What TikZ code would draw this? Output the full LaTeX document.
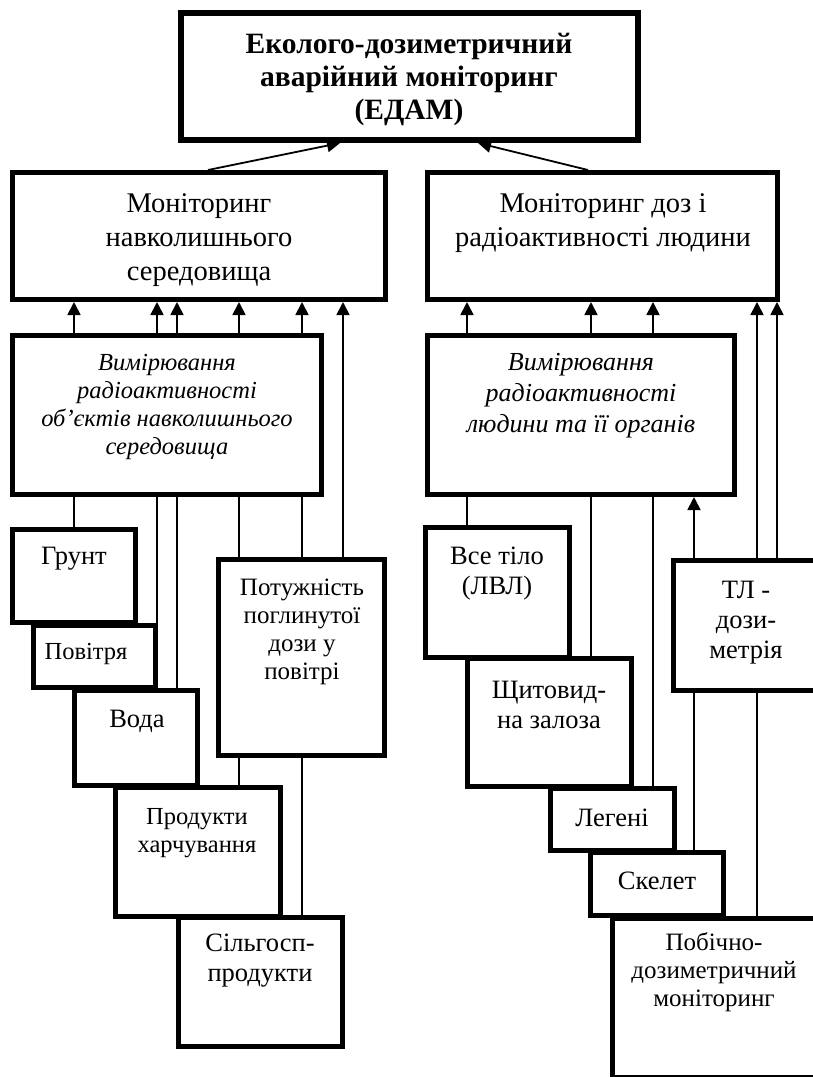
\documentclass[tikz,border=0pt]{standalone}
\usepackage{fontspec}
\setmainfont{Liberation Serif}
\usetikzlibrary{arrows.meta}

% box given by its outer edges: name, left, top, right, bottom
\newcommand\mkbox[5]{%
  \node[box, minimum width={#4-#2-5}, minimum height={#5-#3-5}] (#1) at (#2,#3) {};}

\begin{document}
\begin{tikzpicture}[x=1pt,y=-1pt,
  box/.style={draw, fill=white, line width=5pt, inner sep=0pt, anchor=north west},
  link/.style={line width=1.8pt},
  arr/.style={link, -{Triangle[width=13pt,length=13pt]}},
  lbl/.style={align=center, inner sep=0pt},
  t24/.style={lbl, font=\fontsize{24.5}{28}\selectfont},
  t26/.style={lbl, font=\fontsize{26.5}{30}\selectfont},
  t28/.style={lbl, font=\fontsize{28.5}{34}\selectfont},
]
\useasboundingbox (0,0) rectangle (812,1077);

% top level
\node[box, line width=6pt, minimum width=457, minimum height=127] (edam) at (178,10) {};
\mkbox{monL}{10}{170}{388}{302}
\mkbox{monR}{425}{170}{780}{302}

% measurement blocks
\mkbox{measL}{10}{333}{324}{497}
\mkbox{measR}{425}{333}{737}{497}

% environment objects
\mkbox{grunt}{10}{527}{138}{625}
\mkbox{povitrya}{31}{623}{158}{690}
\mkbox{voda}{72}{688}{200}{788}
\mkbox{produkty}{113}{785}{283}{919}
\mkbox{silgosp}{176}{915}{345}{1049}
\mkbox{potuzh}{216}{557}{387}{758}

% human body and dosimetry
\mkbox{vse}{423}{525}{572}{660}
\mkbox{shchyt}{465}{656}{634}{789}
\mkbox{legeni}{548}{786}{677}{853}
\mkbox{skelet}{588}{850}{726}{918}
\mkbox{tl}{671}{558}{822}{693}
\mkbox{pobichno}{610}{916}{822}{1080}

% labels
\node[lbl, font=\fontsize{29.5}{33}\selectfont\bfseries] (edam-t) at (409,79)
  {Еколого-дозиметричний\\аварійний моніторинг\\(ЕДАМ)};
\node[t28] (monL-t) at (199,240) {Моніторинг\\навколишнього\\середовища};
\node[t28] (monR-t) at (603,223) {Моніторинг доз і\\радіоактивності людини};
\node[lbl, font=\fontsize{24.5}{28}\selectfont\itshape] (measL-t) at (167,407)
  {Вимірювання\\радіоактивності\\об’єктів навколишнього\\середовища};
\node[lbl, font=\fontsize{26}{31}\selectfont\itshape] (measR-t) at (581,396)
  {Вимірювання\\радіоактивності\\людини та її органів};
\node[t26] (grunt-t) at (74,559) {Грунт};
\node[t24] (povitrya-t) at (86,654) {Повітря};
\node[t26] (voda-t) at (137,721) {Вода};
\node[t24] (produkty-t) at (197,833) {Продукти\\харчування};
\node[t26] (silgosp-t) at (260,961) {Сільгосп-\\продукти};
\node[lbl, font=\fontsize{25}{28}\selectfont] (potuzh-t) at (302,632) {Потужність\\поглинутої\\дози у\\повітрі};
\node[t26] (vse-t) at (497,574) {Все тіло\\(ЛВЛ)};
\node[t26] (shchyt-t) at (549,705) {Щитовид-\\на залоза};
\node[t26] (legeni-t) at (612,818) {Легені};
\node[t26] (skelet-t) at (657,881) {Скелет};
\node[t26] (tl-t) at (746,623) {ТЛ -\\дози-\\метрія};
\node[lbl, font=\fontsize{25}{28}\selectfont] (pobichno-t) at (714,972)
  {Побічно-\\дозиметричний\\моніторинг};

% x positions of the vertical connectors
\foreach \n/\x in {a/74, b/157, c/177, d/239, e/302, f/343,
                   g/467, h/591, i/653, j/694, k/757, l/777,
                   s1/208, e1/340, s2/588, e2/478}
  \coordinate (x\n) at (\x,0);

% into ЕДАМ
\draw[arr] (monL.north -| xs1) -- (edam.south -| xe1);
\draw[arr] (monR.north -| xs2) -- (edam.south -| xe2);

% left branch
\foreach \c in {xa, xb, xc, xd, xe}
  \draw[arr] (measL.north -| \c) -- (monL.south -| \c);
\draw[arr] (potuzh.north -| xf) -- (monL.south -| xf);
\draw[link] (grunt.north -| xa) -- (measL.south -| xa);
\draw[link] (povitrya.north -| xb) -- (measL.south -| xb);
\draw[link] (voda.north -| xc) -- (measL.south -| xc);
\draw[link] (potuzh.north -| xd) -- (measL.south -| xd);
\draw[link] (potuzh.north -| xe) -- (measL.south -| xe);
\draw[link] (produkty.north -| xd) -- (potuzh.south -| xd);
\draw[link] (silgosp.north -| xe) -- (potuzh.south -| xe);

% right branch
\foreach \c in {xg, xh, xi}
  \draw[arr] (measR.north -| \c) -- (monR.south -| \c);
\draw[arr] (tl.north -| xk) -- (monR.south -| xk);
\draw[arr] (tl.north -| xl) -- (monR.south -| xl);
\draw[arr] (tl.north -| xj) -- (measR.south -| xj);
\draw[link] (vse.north -| xg) -- (measR.south -| xg);
\draw[link] (shchyt.north -| xh) -- (measR.south -| xh);
\draw[link] (legeni.north -| xi) -- (measR.south -| xi);
\draw[link] (skelet.north -| xj) -- (tl.south -| xj);
\draw[link] (pobichno.north -| xk) -- (tl.south -| xk);
\end{tikzpicture}
\end{document}
